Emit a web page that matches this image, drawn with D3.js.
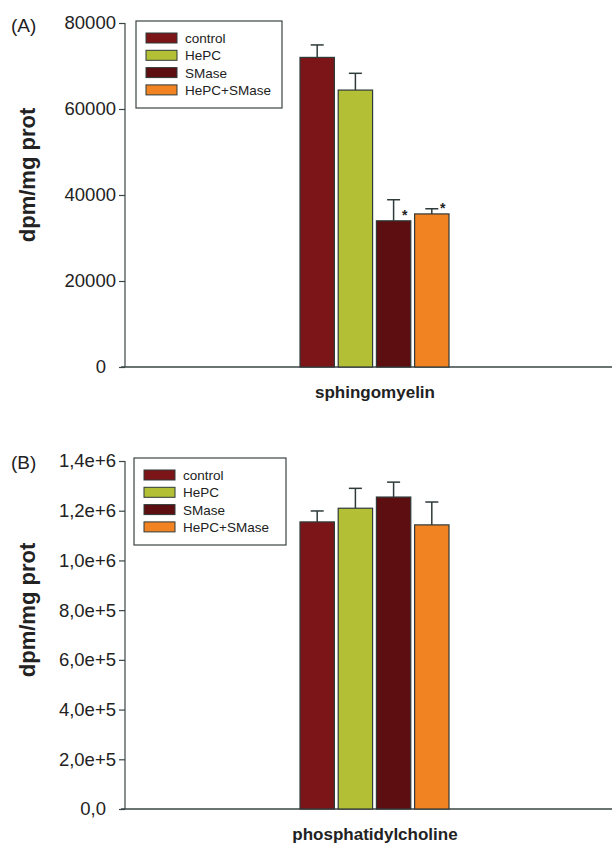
<!doctype html>
<html>
<head>
<style>
  body { margin: 0; background: #fff; }
  svg { font-family: "Liberation Sans", Arial, sans-serif; }
  .axis path, .axis line { stroke: #3b4545; stroke-width: 1.2; }
  .axis text { font-size: 18.5px; fill: #222; }
  .bar { stroke: #2f3a3a; stroke-width: 1.2; }
  .err { stroke: #2f3a3a; stroke-width: 1.5; fill: none; }
</style>
<script src="https://d3js.org/d3.v7.min.js"></script>
</head>
<body>
<svg width="612" height="843"></svg>
<script>
// data
var groups = ["control", "HePC", "SMase", "HePC+SMase"];
var colors = ["#7c1517", "#b3bf34", "#5c0e11", "#f28322"];

var smMeans = [72000, 64400, 34000, 35600];
var smErrs = [2900, 3900, 4900, 1200];
var smTicks = [0, 20000, 40000, 60000, 80000];
var smStars = [false, false, true, true];

var pcMeans = [1155000, 1210000, 1255000, 1143000];
var pcErrs = [44000, 80000, 60000, 92000];
var pcTicks = [0, 200000, 400000, 600000, 800000, 1000000, 1200000, 1400000];

var svg = d3.select("svg");

function panel(opt) {
    var y = d3.scaleLinear().domain([0, opt.max]).range([opt.y0, opt.y1]);
    var x = d3.scaleBand().domain(groups).range([300, 449]).paddingInner(0.1);

    // x axis line
    svg.append("line")
       .attr("x1", 121).attr("x2", 612)
       .attr("y1", opt.y0).attr("y2", opt.y0)
       .attr("stroke", "#3b4545").attr("stroke-width", 1.4);

    svg.append("g")
       .attr("class", "axis")
       .attr("transform", "translate(125,0)")
       .call(d3.axisLeft(y).tickValues(opt.ticks).tickSize(6).tickSizeOuter(0).tickPadding(3).tickFormat(opt.fmt))
       .call(function(g) {
           g.select(".domain").attr("d", "M0," + opt.y0 + "V" + opt.y1);
           // zero label sits a bit further left in the original
           g.selectAll(".tick text").filter(function(d) { return d === 0; }).attr("dx", -10);
       });

    svg.append("text")
       .attr("x", 11).attr("y", opt.tagY)
       .attr("font-size", 19).attr("fill", "#222")
       .text(opt.tag);

    svg.append("text")
       .attr("transform", "translate(35," + opt.titleY + ") rotate(-90)")
       .attr("text-anchor", "middle")
       .attr("font-size", 22).attr("font-weight", "bold").attr("fill", "#222")
       .text("dpm/mg prot");

    svg.append("text")
       .attr("x", 375).attr("y", opt.y0 + 31)
       .attr("text-anchor", "middle")
       .attr("font-size", 17).attr("font-weight", "bold").attr("fill", "#222")
       .text(opt.label);

    var cx = function(i) { return x(groups[i]) + x.bandwidth() / 2; };

    // error bars
    var eg = svg.append("g");
    opt.means.forEach(function(m, i) {
        var top = y(m + opt.errs[i]);
        eg.append("line").attr("class", "err")
          .attr("x1", cx(i)).attr("x2", cx(i))
          .attr("y1", y(m)).attr("y2", top);
        eg.append("line").attr("class", "err")
          .attr("x1", cx(i) - 6.5).attr("x2", cx(i) + 6.5)
          .attr("y1", top).attr("y2", top);
    });

    svg.append("g").selectAll("rect")
       .data(opt.means)
       .enter().append("rect")
       .attr("class", "bar")
       .attr("x", function(d, i) { return x(groups[i]); })
       .attr("y", function(d) { return y(d); })
       .attr("width", x.bandwidth())
       .attr("height", function(d) { return opt.y0 - y(d); })
       .attr("fill", function(d, i) { return colors[i]; });

    if (opt.stars) {
        opt.means.forEach(function(m, i) {
            if (!opt.stars[i]) return;
            svg.append("text")
               .attr("x", cx(i) + 11)
               .attr("y", y(m) - 1)
               .attr("text-anchor", "middle")
               .attr("font-size", 14).attr("font-weight", "bold").attr("fill", "#222")
               .text("*");
        });
    }

    // legend
    var lg = svg.append("g").attr("transform", "translate(" + opt.lx + "," + opt.ly + ")");
    lg.append("rect")
      .attr("width", opt.lw).attr("height", 87)
      .attr("fill", "#fff").attr("stroke", "#3b4545").attr("stroke-width", 1.2);
    groups.forEach(function(gname, i) {
        lg.append("rect")
          .attr("x", 10).attr("y", 12 + i * 17.3)
          .attr("width", 31).attr("height", 10)
          .attr("fill", colors[i]).attr("stroke", "#2f3a3a").attr("stroke-width", 1);
        lg.append("text")
          .attr("x", 49).attr("y", 22 + i * 17.3)
          .attr("font-size", 13.5).attr("fill", "#222")
          .text(gname);
    });
}

panel({
    tag: "(A)", tagY: 32, titleY: 175, max: 80000, y0: 367, y1: 23, ticks: smTicks,
    fmt: d3.format("d"), means: smMeans, errs: smErrs, stars: smStars,
    label: "sphingomyelin", lx: 136, ly: 21, lw: 146
});

panel({
    tag: "(B)", tagY: 469, titleY: 610, max: 1400000, y0: 809, y1: 461, ticks: pcTicks,
    fmt: function(d) {
        if (d === 0) return "0,0";
        var e = Math.floor(Math.log10(d));
        return (d / Math.pow(10, e)).toFixed(1).replace(".", ",") + "e+" + e;
    },
    means: pcMeans, errs: pcErrs, stars: null,
    label: "phosphatidylcholine", lx: 134, ly: 458, lw: 152
});
</script>
</body>
</html>
